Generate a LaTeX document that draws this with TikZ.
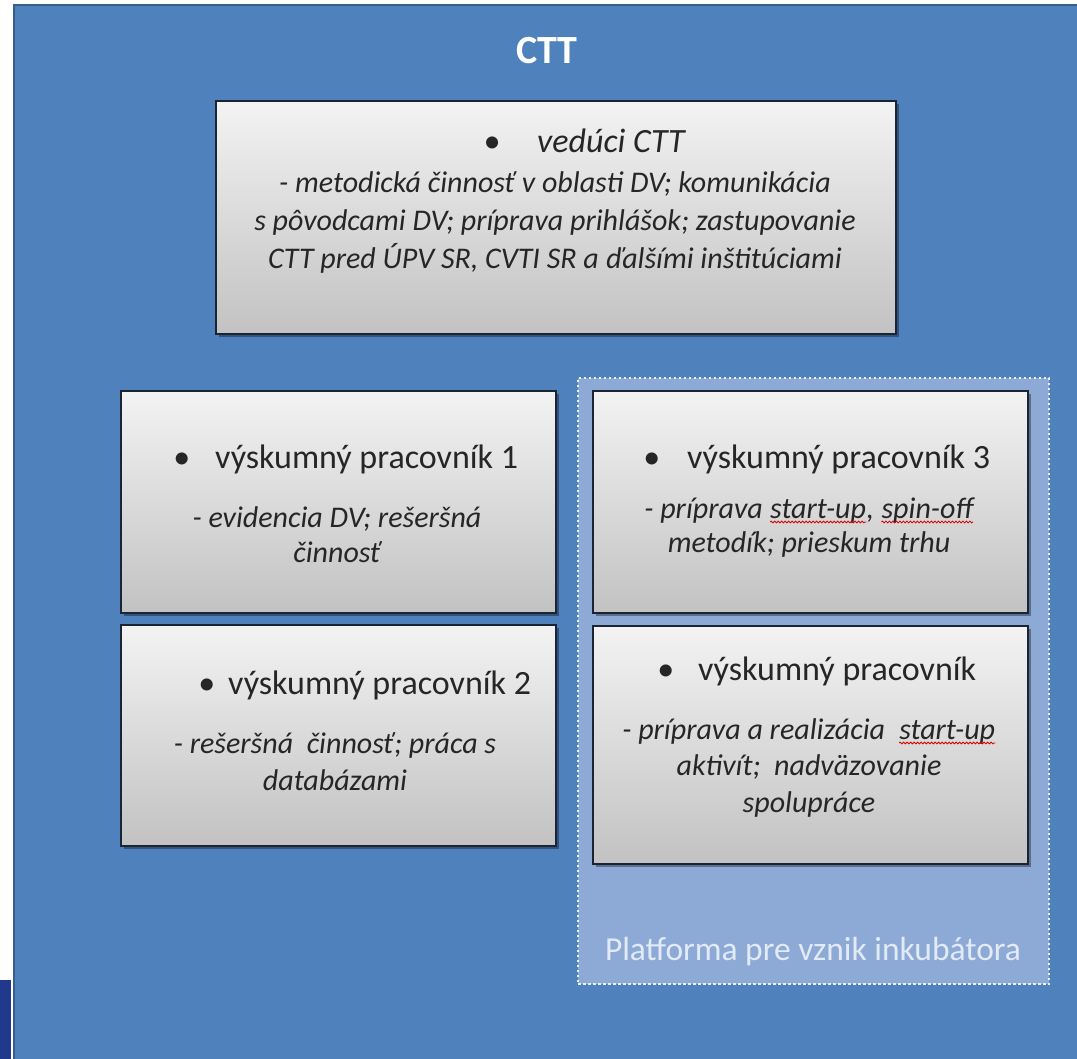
\documentclass[tikz,border=0pt]{standalone}
\usepackage{fontspec}
\setmainfont{Carlito}
\usetikzlibrary{shadows,decorations.pathmorphing}
\definecolor{blueback}{HTML}{4F81BD}
\definecolor{blueedge}{HTML}{385D8A}
\definecolor{platfill}{HTML}{8DAAD7}
\definecolor{platdots}{HTML}{EAF1FA}
\definecolor{platext}{HTML}{E2EAF5}
\definecolor{cardline}{HTML}{1B2433}
\definecolor{cardtop}{HTML}{F3F3F3}
\definecolor{cardbot}{HTML}{C2C2C2}
\definecolor{navy}{HTML}{21398D}
\definecolor{ink}{HTML}{262626}
\newcommand{\pitem}[2]{\llap{\textbullet\hspace*{#1}}#2}
\newcommand{\spellerr}[1]{\tikz[baseline=(sp.base)]{\node[inner sep=0pt] (sp) {#1};
	\draw[red!85!black, line width=.8pt, decorate, decoration={snake, amplitude=.9pt, segment length=3.5pt}]
		([yshift=-4pt]sp.base west) -- ([yshift=-4pt]sp.base east);}}
\tikzset{
	card/.style={draw=cardline, line width=1.6pt, top color=cardtop, bottom color=cardbot,
		drop shadow={shadow xshift=3pt, shadow yshift=-3pt, fill=black, opacity=.35},
		inner sep=0pt, anchor=north west},
	head/.style={font=\fontsize{34}{40}\selectfont, text=ink, inner sep=0pt, anchor=base west},
	desc/.style={font=\itshape\fontsize{30}{36}\selectfont, text=ink, inner sep=0pt, anchor=base, align=center}
}

\begin{document}
\begin{tikzpicture}[x=1pt, y=-1pt]
	%%%%% START %%%%%
	\useasboundingbox (0,0) rectangle (1077,1059);
	
	\fill[navy] (0, 980) rectangle (11, 1059);
	\fill[blueback] (14, 5) rectangle (1077, 1059);
	\draw[blueedge, line width=2.5pt] (14, 1059) -- (14, 5) -- (1077, 5);
	
	\node[font=\bfseries\fontsize{40}{48}\selectfont, text=white, inner sep=0pt, anchor=base] (title) at (547, 64) {CTT};
	
	% platform for the incubator
	\node[fill=platfill, draw=platdots, line width=2.2pt, dash pattern=on 2.4pt off 2.6pt,
		minimum width=471pt, minimum height=606pt, anchor=north west, inner sep=0pt] (plat) at (577, 377) {};
	\node[font=\fontsize{33.5}{40}\selectfont, text=platext, inner sep=0pt, anchor=base] (platlbl) at (813, 960) {Platforma pre vznik inkubátora};
	
	% boxes
	\node[card, minimum width=680pt, minimum height=233pt] (lead) at (215, 100) {};
	\node[card, minimum width=435pt, minimum height=222pt] (w1) at (120, 390) {};
	\node[card, minimum width=435pt, minimum height=221pt] (w2) at (120, 624) {};
	\node[card, minimum width=435pt, minimum height=222pt] (w3) at (592, 390) {};
	\node[card, minimum width=435pt, minimum height=238pt] (w4) at (592, 625) {};
	
	% texts (desc nodes sit on the baseline of their last line)
	\node[head, font=\itshape\fontsize{34}{40}\selectfont] (leadh) at (537, 153) {\pitem{37pt}{vedúci CTT}};
	\node[desc, font=\itshape\fontsize{30}{38}\selectfont] (leadd) at (555, 269) {- metodická činnosť v oblasti DV; komunikácia\\s pôvodcami DV; príprava prihlášok; zastupovanie\\CTT pred ÚPV SR, CVTI SR a ďalšími inštitúciami};
	
	\node[head] (w1h) at (215, 468) {\pitem{25pt}{výskumný pracovník 1}};
	\node[desc, font=\itshape\fontsize{30}{35}\selectfont] (w1d) at (337, 562) {- evidencia DV; rešeršná\\činnosť};
	
	\node[head] (w2h) at (228, 694) {\pitem{13pt}{výskumný pracovník 2}};
	\node[desc, font=\itshape\fontsize{30}{37}\selectfont] (w2d) at (335, 790) {- rešeršná~ činnosť; práca s\\databázami};
	
	\node[head] (w3h) at (687, 468) {\pitem{27pt}{výskumný pracovník 3}};
	\node[desc, font=\itshape\fontsize{30}{34}\selectfont] (w3d) at (809, 552) {- príprava \spellerr{start-up}, \spellerr{spin-off}\\metodík; prieskum trhu};
	
	\node[head] (w4h) at (698, 680) {\pitem{24pt}{výskumný pracovník}};
	\node[desc, font=\itshape\fontsize{30}{36.5}\selectfont] (w4d) at (809, 812) {- príprava a realizácia~ \spellerr{start-up}\\aktivít;~ nadväzovanie\\spolupráce};
	
	%%%%% END %%%%%
\end{tikzpicture}
\end{document}
